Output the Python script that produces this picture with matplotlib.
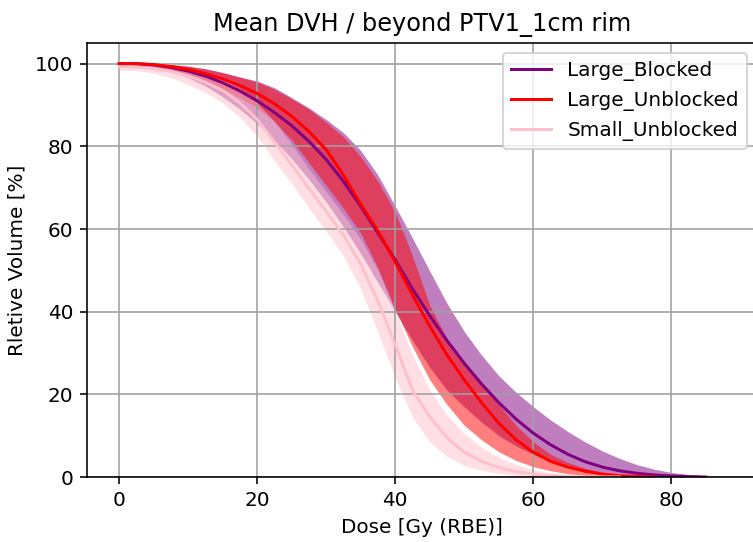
import numpy as np
import matplotlib
matplotlib.use("Agg")
import matplotlib.pyplot as plt

nan = np.nan
dose = np.arange(0, 92.5, 2.5)  # 0 .. 90 Gy grid

large_blocked_mean = [100, 100, 99.7, 99.1, 98.2, 97, 95.4, 93.4, 91, 88.2, 85, 81.2, 76.8, 71.5,
                      65.5, 59, 52.5, 45.5, 39, 33, 27.5, 22.5, 18, 14, 10.6, 7.8, 5.5, 3.7, 2.4,
                      1.5, 0.9, 0.5, 0.25, 0.1, 0, nan, nan]
large_blocked_hi = [100, 100, 100, 99.8, 99.4, 98.8, 97.9, 96.8, 95.8, 94.2, 91.8, 89.3, 86.5, 83.3,
                    79, 73, 65.5, 57.8, 49.8, 42, 35.2, 29.5, 24.5, 20.5, 17, 13.8, 11, 8.5, 6.3,
                    4.5, 3, 1.9, 1.1, 0.6, 0.3, 0.1, 0]
large_blocked_lo = [99.5, 99.4, 99, 98, 96.6, 94.6, 92, 89, 85.5, 81.5, 77, 72, 66.5, 60.5, 54, 47,
                    40, 33, 26.5, 21, 17, 13.3, 10, 7.5, 5.5, 3.9, 2.6, 1.7, 1.1, 0.6, 0.3, 0.1,
                    0, 0, 0, nan, nan]

large_unblocked_mean = [100, 100, 99.8, 99.3, 98.6, 97.6, 96.3, 94.7, 92.8, 90.3, 87.3, 83.6, 79.2,
                        73, 66, 59.5, 52, 44, 36.5, 29.5, 23.5, 18, 13, 9, 6, 3.8, 2.4, 1.4, 0.7,
                        0.3, 0.1, 0, nan, nan, nan, nan, nan]
large_unblocked_hi = [100, 100, 100, 99.8, 99.4, 98.7, 97.8, 96.7, 95.6, 93.8, 91.5, 89, 85.8, 82.3,
                      77.5, 71.5, 64, 53.5, 41.5, 33.5, 28, 22.5, 17.5, 12.5, 8.5, 5.5, 3.5, 2.1,
                      1.2, 0.6, 0.3, 0.1, nan, nan, nan, nan, nan]
large_unblocked_lo = [99.8, 99.7, 99.4, 98.6, 97.5, 96, 94, 91.8, 89.3, 86, 81.5, 76, 70.5, 65, 59,
                      50.5, 40.5, 31.5, 23.5, 17.5, 12.5, 9, 6.1, 4, 2.5, 1.5, 0.8, 0.4, 0.2, 0.05,
                      0, 0, nan, nan, nan, nan, nan]

small_unblocked_mean = [99.3, 99.2, 98.8, 98.1, 97, 95.5, 93.5, 90.5, 86.5, 81, 75.5, 69.8, 64.3,
                        58.5, 51.5, 42.5, 32, 21, 14.5, 9.5, 6, 3.8, 2.3, 1.3, 0.7, 0.3, 0.1, 0, 0,
                        0, nan, nan, nan, nan, nan, nan, nan]
small_unblocked_hi = [100, 100, 99.8, 99.4, 98.8, 97.8, 96.3, 94, 90.5, 86, 80.5, 74.5, 69, 63.5,
                      57.5, 50, 40, 29.5, 21, 15, 10.5, 7.2, 4.8, 3, 1.8, 1, 0.5, 0.2, 0, 0,
                      nan, nan, nan, nan, nan, nan, nan]
small_unblocked_lo = [98.4, 98.3, 97.7, 96.6, 95, 93, 90.5, 87, 82.5, 76.5, 71, 65, 59.5, 53.5,
                      45.5, 35, 24, 14.5, 8.5, 5, 2.8, 1.6, 0.8, 0.4, 0.1, 0, 0, 0, 0, 0,
                      nan, nan, nan, nan, nan, nan, nan]

labels = ["Large_Blocked", "Large_Unblocked", "Small_Unblocked"]
colors = ["purple", "red", "pink"]
means = [large_blocked_mean, large_unblocked_mean, small_unblocked_mean]
his = [large_blocked_hi, large_unblocked_hi, small_unblocked_hi]
los = [large_blocked_lo, large_unblocked_lo, small_unblocked_lo]

fig = plt.figure(figsize=(753 / 144, 542 / 144), dpi=144)
ax = fig.add_axes([0.1159, 0.1199, 0.8894, 0.8007])

for c, lo, hi in zip(colors, los, his):
    ax.fill_between(dose, np.array(lo, float), np.array(hi, float), color=c, alpha=0.5, lw=0)

for lab, c, m in zip(labels, colors, means):
    ax.plot(dose, np.array(m, float), color=c, lw=1.5, label=lab)

ax.set_xlim(-4.62, 92.4)
ax.set_ylim(0, 105)
ax.set_xticks([0, 20, 40, 60, 80])
ax.set_yticks([0, 20, 40, 60, 80, 100])
ax.grid(True, color="#a0a0a0", lw=0.8)
ax.set_title("Mean DVH / beyond PTV1_1cm rim", fontsize=12)
ax.set_xlabel("Dose [Gy (RBE)]")
ax.set_ylabel("Rletive Volume [%]")
ax.legend(loc="upper right")

fig.savefig("out.png", dpi=144)
